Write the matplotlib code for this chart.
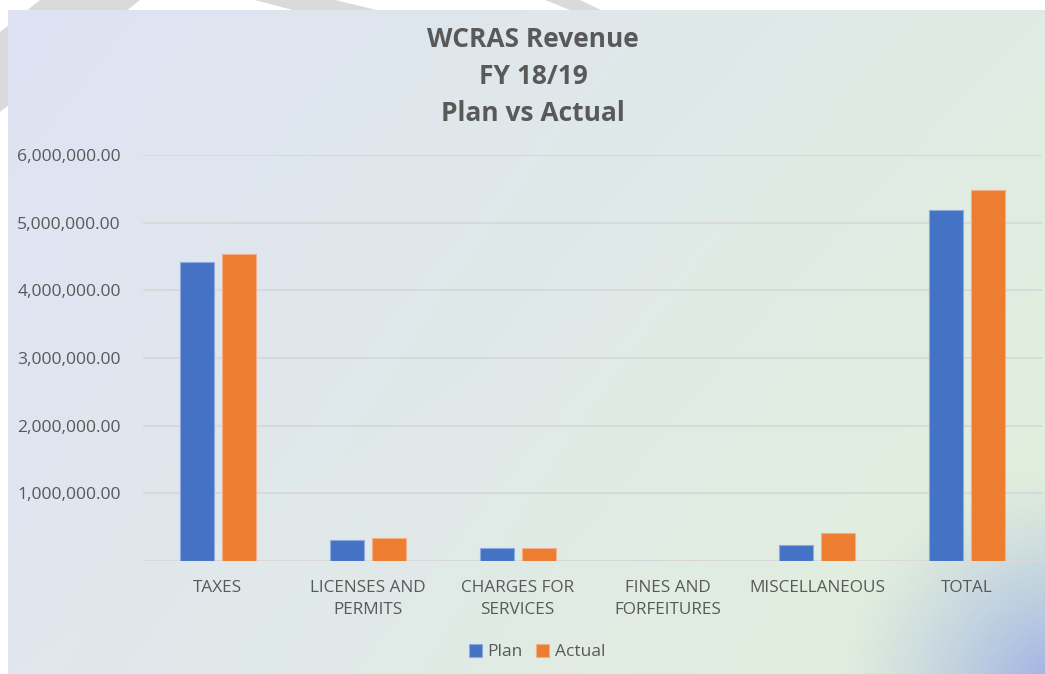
import numpy as np
import matplotlib.pyplot as plt
from matplotlib.patches import Polygon

categories = ['TAXES', 'LICENSES AND\nPERMITS', 'CHARGES FOR\nSERVICES',
              'FINES AND\nFORFEITURES', 'MISCELLANEOUS', 'TOTAL']
plan = [4420000, 306000, 197000, 0, 236000, 5180000]
actual = [4530000, 340000, 197000, 0, 410000, 5490000]
yticks = [1000000, 2000000, 3000000, 4000000, 5000000, 6000000]

W, H = 1045, 674
txt = '#595959'
plt.rcParams['font.family'] = ['Open Sans', 'DejaVu Sans']

fig = plt.figure(figsize=(W / 100, H / 100), dpi=100)

# slide background behind the chart
bg = fig.add_axes([0, 0, 1, 1])
bg.set_xlim(0, W)
bg.set_ylim(H, 0)
bg.axis('off')
for pts in [[(-10, 40), (40, 0), (140, 0), (-10, 120)],
            [(255, 0), (335, 0), (385, 12), (300, 12)],
            [(545, 0), (580, 0), (605, 12), (575, 12)]]:
    bg.add_patch(Polygon(pts, closed=True, color='#dadada', lw=0))

# gradient fill of the chart area
nx, ny = 300, 200
u = np.linspace(0, 1, nx)[None, :, None]
v = np.linspace(0, 1, ny)[:, None, None]
tl = np.array([222, 227, 244]) / 255
tr = np.array([224, 235, 228]) / 255
bl = np.array([224, 231, 238]) / 255
br = np.array([226, 240, 218]) / 255
img = (tl * (1 - u) * (1 - v) + tr * u * (1 - v) + bl * (1 - u) * v + br * u * v)
px = 8 + u[..., 0] * (W - 8)
py = 10 + v[..., 0] * (H - 10)
d = np.sqrt((px - 1070) ** 2 + (py - 700) ** 2)
wgt = np.clip(1 - d / 240, 0, 1) ** 1.3
blue = np.array([150, 170, 230]) / 255
img = img * (1 - wgt[..., None]) + blue * wgt[..., None]
bg.imshow(img, extent=[8, W, H, 10], aspect='auto', zorder=1)

# title
fig.text(533 / W, 1 - 76.5 / H, 'WCRAS Revenue\nFY 18/19\nPlan vs Actual',
         ha='center', va='center', fontsize=19, fontweight='bold',
         color=txt, linespacing=1.47)

ax = fig.add_axes([143 / W, (H - 561) / H, (1042 - 143) / W, (561 - 155) / H])
ax.patch.set_alpha(0)
x = np.arange(len(categories))
bw = 0.227
off = 0.14
ax.bar(x - off, plan, bw, color='#4472C4', edgecolor='#8fa9dc', linewidth=0.8,
       label='Plan', zorder=3)
ax.bar(x + off, actual, bw, color='#ED7D31', edgecolor='#f2b08a', linewidth=0.8,
       label='Actual', zorder=3)

ax.set_xlim(-0.5, len(categories) - 0.5)
ax.set_ylim(0, 6000000)
ax.set_yticks(yticks)
ax.set_yticklabels([f'{t:,.2f}' for t in yticks])
ax.set_xticks(x)
ax.set_xticklabels(categories, linespacing=1.48)
ax.grid(axis='y', color='#d9d9d9', linewidth=1.5, zorder=0)
ax.axhline(0, color='#d9d9d9', linewidth=1.5, zorder=2)
for s in ax.spines.values():
    s.set_visible(False)
ax.tick_params(axis='y', length=0, pad=16, labelsize=12.6, labelcolor=txt)
ax.tick_params(axis='x', length=0, pad=14, labelsize=12.3, labelcolor=txt)

fig.legend(loc='center', bbox_to_anchor=(537 / W, 1 - 652 / H), ncol=2,
           frameon=False, fontsize=12.5, labelcolor=txt, handlelength=0.75,
           handleheight=0.75, handletextpad=0.3, columnspacing=0.8)

fig.savefig('out.png', dpi=100)
